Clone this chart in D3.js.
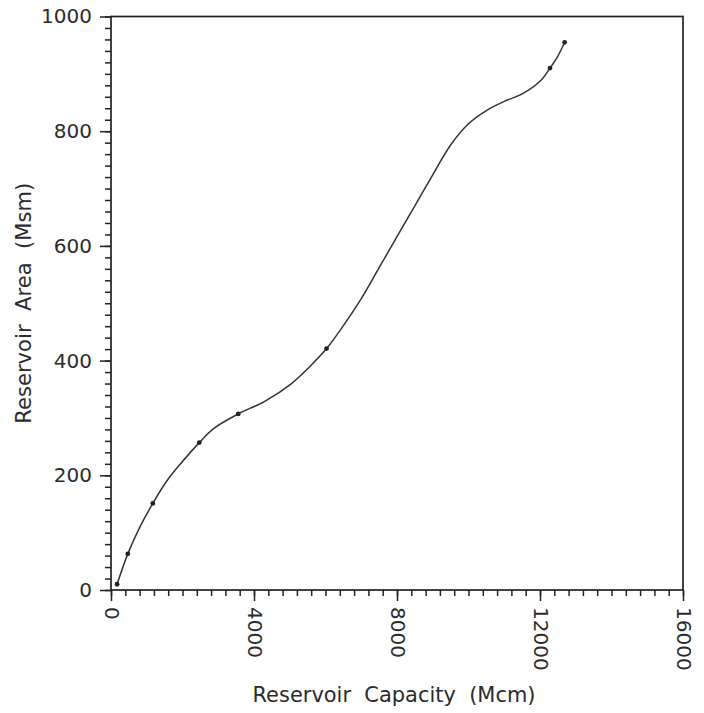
<!DOCTYPE html>
<html>
<head>
<meta charset="utf-8">
<script src="https://cdn.jsdelivr.net/npm/d3@7"></script>
<style>
  body { margin: 0; background: #fff; }
  svg { display: block; }
  text { font-family: "DejaVu Sans", sans-serif; fill: #2b2b2b; }
</style>
</head>
<body>
<svg id="chart" width="704" height="713"></svg>
<script>
// Axis tick labels
const capacityTicks = [0, 4000, 8000, 12000, 16000];
const areaTicks = [0, 200, 400, 600, 800, 1000];

// Surveyed points (capacity in Mcm, area in Msm)
const surveyCapacity = [170, 470, 1170, 2470, 3560, 6030, 12280, 12690];
const surveyArea = [10, 63, 151, 257, 307, 421, 910, 955];

// Fitted area–capacity curve
const curveCapacity = [170, 470, 810, 1170, 1560, 1930, 2470, 2860, 3560,
  4300, 5050, 5550, 6030, 6500, 7000, 7500, 8000, 8500, 9000, 9500,
  10000, 10500, 11000, 11500, 12000, 12280, 12500, 12690];
const curveArea = [10, 63, 110, 151, 190, 219, 257, 281, 307,
  329, 360, 389, 421, 461, 508, 562, 616, 670, 724, 776,
  813, 836, 852, 865, 887, 910, 931, 955];

const xLabel = "Reservoir  Capacity  (Mcm)";
const yLabel = "Reservoir  Area  (Msm)";

const W = 704, H = 713;
const margin = { top: 16.5, right: 21, bottom: 123, left: 111 };
const iw = W - margin.left - margin.right;
const ih = H - margin.top - margin.bottom;

const svg = d3.select("#chart");
const g = svg.append("g").attr("transform", `translate(${margin.left},${margin.top})`);

const x = d3.scaleLinear().domain([0, 16000]).range([0, iw]);
const y = d3.scaleLinear().domain([0, 1000]).range([ih, 0]);

const ink = "#222";

// minor ticks
g.append("g")
  .attr("transform", `translate(0,${ih})`)
  .call(d3.axisBottom(x).tickValues(d3.range(0, 16001, 400)).tickSize(6).tickSizeOuter(0).tickFormat(""))
  .call(a => a.select(".domain").remove());
g.append("g")
  .call(d3.axisLeft(y).tickValues(d3.range(0, 1001, 20)).tickSize(6).tickSizeOuter(0).tickFormat(""))
  .call(a => a.select(".domain").remove());

// major ticks with labels
const xAxis = g.append("g")
  .attr("transform", `translate(0,${ih})`)
  .call(d3.axisBottom(x).tickValues(capacityTicks).tickSize(11).tickSizeOuter(0).tickFormat(d3.format("d")));
xAxis.select(".domain").remove();
xAxis.selectAll(".tick text")
  .attr("y", 0).attr("dy", null)
  .attr("transform", "translate(0,17) rotate(90)")
  .attr("text-anchor", "start")
  .attr("dominant-baseline", "central")
  .attr("font-size", 20)
  .attr("font-family", "DejaVu Sans");

const yAxis = g.append("g")
  .call(d3.axisLeft(y).tickValues(areaTicks).tickSize(11).tickSizeOuter(0).tickFormat(d3.format("d")));
yAxis.select(".domain").remove();
yAxis.selectAll(".tick text")
  .attr("x", -19)
  .attr("font-size", 20)
  .attr("font-family", "DejaVu Sans");

g.selectAll(".tick line").attr("stroke", ink).attr("stroke-width", 1.5);

// frame
g.append("rect")
  .attr("x", 0).attr("y", 0).attr("width", iw).attr("height", ih)
  .attr("fill", "none").attr("stroke", ink).attr("stroke-width", 1.7);

// curve
const curvePts = curveCapacity.map((c, i) => [c, curveArea[i]]);
g.append("path")
  .datum(curvePts)
  .attr("fill", "none")
  .attr("stroke", "#333")
  .attr("stroke-width", 1.5)
  .attr("d", d3.line().x(d => x(d[0])).y(d => y(d[1])).curve(d3.curveCatmullRom.alpha(0.5)));

// survey points
const pts = surveyCapacity.map((c, i) => [c, surveyArea[i]]);
g.selectAll("circle.pt")
  .data(pts)
  .join("circle")
  .attr("class", "pt")
  .attr("cx", d => x(d[0]))
  .attr("cy", d => y(d[1]))
  .attr("r", 2.4)
  .attr("fill", "#222");

// axis titles
svg.append("text")
  .attr("x", margin.left + iw / 2 - 3)
  .attr("y", 702)
  .attr("text-anchor", "middle")
  .attr("font-size", 21)
  .attr("textLength", 283)
  .attr("lengthAdjust", "spacingAndGlyphs")
  .style("white-space", "pre")
  .text(xLabel);

svg.append("text")
  .attr("transform", `translate(31,${margin.top + ih / 2}) rotate(-90)`)
  .attr("text-anchor", "middle")
  .attr("font-size", 21)
  .attr("textLength", 241)
  .attr("lengthAdjust", "spacingAndGlyphs")
  .style("white-space", "pre")
  .text(yLabel);
</script>
</body>
</html>
